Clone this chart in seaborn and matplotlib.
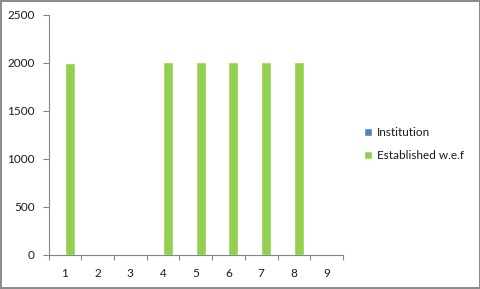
import matplotlib
matplotlib.use("Agg")
import matplotlib.pyplot as plt
import seaborn as sns
import pandas as pd
import numpy as np

categories = ["1", "2", "3", "4", "5", "6", "7", "8", "9"]
institution = [0, 0, 0, 0, 0, 0, 0, 0, 0]
established = [1993, 0, 0, 2004, 2011, 2004, 2004, 2011, 0]
series_names = ["Institution", "Established w.e.f"]
colors = ["#4F81BD", "#92D050"]
yticks = [0, 500, 1000, 1500, 2000, 2500]

df = pd.DataFrame({
    "cat": categories * 2,
    "value": institution + established,
    "series": [series_names[0]] * len(categories) + [series_names[1]] * len(categories),
})

sns.set_style("white")
plt.rcParams["font.family"] = ["Lato", "DejaVu Sans"]

fig = plt.figure(figsize=(4.81, 2.89), dpi=100)
fig.patch.set_facecolor("white")
fig.patch.set_edgecolor("#8c8c8c")
fig.patch.set_linewidth(1.5)
ax = fig.add_axes([0.101, 0.119, 0.612, 0.83])

sns.barplot(data=df, x="cat", y="value", hue="series", order=categories,
            hue_order=series_names, palette=colors, width=0.6, gap=0,
            ax=ax, legend=True, saturation=1)

ax.set_xlim(-0.5, 8.5)
ax.set_ylim(0, 2500)
ax.set_yticks(yticks)
ax.set_yticklabels([str(v) for v in yticks])
ax.set_xlabel("")
ax.set_ylabel("")

ax.set_xticks(np.arange(-0.5, 9.0, 1.0))
ax.set_xticklabels([])
ax.set_xticks(np.arange(0, 9), minor=True)
ax.set_xticklabels(categories, minor=True)
ax.tick_params(axis="x", which="major", length=3.5, width=0.8, color="#868686", direction="out", bottom=True)
ax.tick_params(axis="x", which="minor", length=0, pad=10, labelsize=8.5, labelcolor="#1a1a1a")
ax.tick_params(axis="y", which="major", length=4, width=0.8, color="#868686", direction="out", left=True,
               pad=6, labelsize=8.5, labelcolor="#1a1a1a")

for s in ["top", "right"]:
    ax.spines[s].set_visible(False)
for s in ["left", "bottom"]:
    ax.spines[s].set_color("#868686")
    ax.spines[s].set_linewidth(0.8)
ax.grid(False)

handles, labels = ax.get_legend_handles_labels()
ax.get_legend().remove()
fig.legend(handles, labels, loc="upper left", bbox_to_anchor=(0.735, 0.597),
           frameon=False, fontsize=8.5, handlelength=0.7, handleheight=0.7,
           handletextpad=0.4, labelspacing=1.05, labelcolor="#1a1a1a")

fig.savefig("out.png", dpi=100)
